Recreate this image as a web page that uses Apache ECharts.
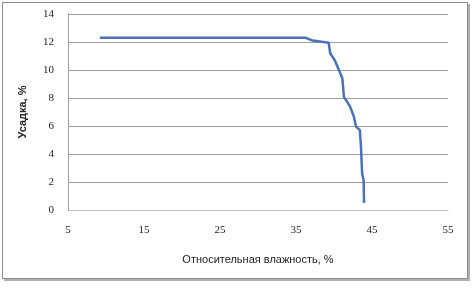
<!DOCTYPE html>
<html><head><meta charset="utf-8">
<script src="https://cdn.jsdelivr.net/npm/echarts@6/dist/echarts.min.js"></script>
<style>html,body{margin:0;padding:0;background:#fff}
#frame{position:absolute;left:2px;top:2px;width:466px;height:277px;border:1px solid #8c8c8c;box-shadow:2px 2px 0 #b0b0b0;box-sizing:border-box}
#c{position:absolute;left:0;top:0;width:473px;height:289px}</style>
</head><body><div id="frame"></div><div id="c"></div>
<script>
const humidity = [9.2, 36.3, 37.2, 39.3, 39.5, 40.1, 40.8, 41.1, 41.3, 42.1, 42.6, 42.9, 43.4, 43.55, 43.7, 43.9, 43.95];
const shrinkage = [12.3, 12.3, 12.1, 11.95, 11.2, 10.7, 9.8, 9.4, 8.1, 7.4, 6.7, 5.95, 5.7, 4.5, 2.6, 2.1, 0.5];
const xTicks = [5, 15, 25, 35, 45, 55];
const yTicks = [0, 2, 4, 6, 8, 10, 12, 14];
const xName = 'Относительная влажность, %';
const yName = 'Усадка, %';

const chart = echarts.init(document.getElementById('c'));
chart.setOption({
  animation: false,
  grid: {left: 68, right: 25, top: 14, bottom: 79},
  xAxis: {
    type: 'value', min: xTicks[0], max: xTicks[xTicks.length-1], interval: 10,
    name: xName, nameLocation: 'middle', nameGap: 44,
    nameTextStyle: {fontFamily: 'Liberation Sans', fontSize: 11, color: '#222'},
    axisLine: {show: true, lineStyle: {color: '#bdbdbd'}},
    axisTick: {show: false},
    splitLine: {show: false},
    axisLabel: {fontFamily: 'Liberation Serif', fontSize: 11, color: '#222', margin: 15}
  },
  yAxis: {
    type: 'value', min: yTicks[0], max: yTicks[yTicks.length-1], interval: 2,
    name: yName, nameLocation: 'middle', nameGap: 40,
    nameTextStyle: {fontFamily: 'Liberation Sans', fontSize: 11, fontWeight: 'bold', color: '#222'},
    axisLine: {show: true, lineStyle: {color: '#9e9e9e'}},
    axisTick: {show: false},
    splitLine: {show: true, lineStyle: {color: '#9e9e9e', width: 1}},
    axisLabel: {fontFamily: 'Liberation Serif', fontSize: 11, color: '#222', margin: 14}
  },
  series: [{
    type: 'line',
    data: humidity.map((h, i) => [h, shrinkage[i]]),
    showSymbol: false,
    lineStyle: {color: '#4a72b8', width: 2.5},
    itemStyle: {color: '#4a72b8'}
  }]
});
</script></body></html>
